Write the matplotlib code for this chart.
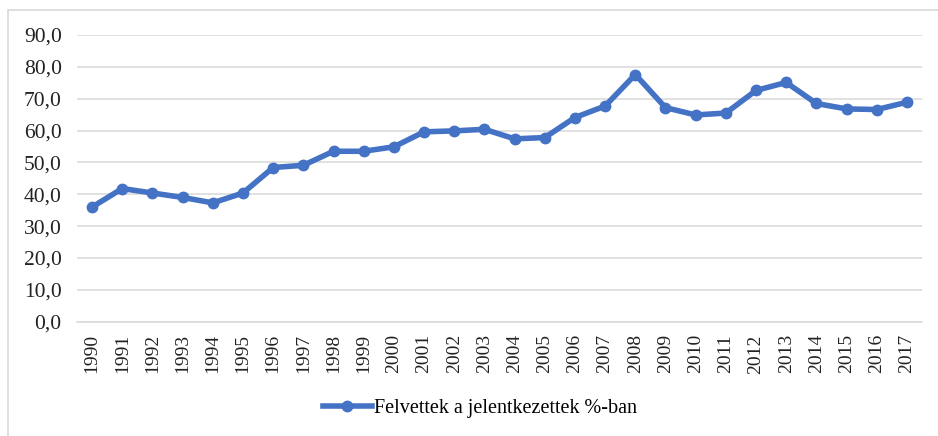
import matplotlib
matplotlib.use("Agg")
import matplotlib.pyplot as plt
from matplotlib.patches import Rectangle
from matplotlib.lines import Line2D

years = [str(y) for y in range(1990, 2018)]
values = [36.0, 41.8, 40.4, 39.0, 37.3, 40.4, 48.4, 49.1, 53.5, 53.5,
          54.9, 59.6, 59.9, 60.4, 57.4, 57.8, 64.1, 67.7, 77.6, 67.2,
          64.9, 65.5, 72.6, 75.1, 68.5, 66.8, 66.6, 68.9]
series_label = "Felvettek a jelentkezettek %-ban"
yticks = [0, 10, 20, 30, 40, 50, 60, 70, 80, 90]

W, H = 938, 436
fig = plt.figure(figsize=(W / 100, H / 100), dpi=100)
fig.patch.set_facecolor("white")

# outer chart border (cropped at right and bottom)
fig.patches.append(Rectangle((8 / W, -0.05), 1.1, (H - 10) / H + 0.05,
                             transform=fig.transFigure, fill=False,
                             edgecolor="#d9d9d9", linewidth=1.2))

ax = fig.add_axes([77 / W, (H - 321.7) / H, (922 - 77) / W, (321.7 - 35) / H])
color = "#4472C4"
x = list(range(len(years)))
ax.plot(x, values, color=color, linewidth=4, marker="o", markersize=7.5,
        markerfacecolor=color, markeredgecolor=color, solid_joinstyle="round",
        label=series_label, zorder=3)

ax.set_xlim(-0.5, len(years) - 0.5)
ax.set_ylim(0, 90)
ax.set_yticks(yticks)
ax.set_yticklabels([f"{v:.1f}".replace(".", ",") for v in yticks],
                   fontfamily="Liberation Serif", fontsize=15.5)
ax.set_xticks(x)
ax.set_xticklabels(years, rotation=90, fontfamily="Liberation Serif", fontsize=14)
ax.tick_params(axis="both", length=0, colors="#222222")
ax.tick_params(axis="y", pad=11)
ax.tick_params(axis="x", pad=9)
ax.grid(axis="y", color="#d9d9d9", linewidth=1.1)
ax.set_axisbelow(True)
for s in ["top", "right", "left"]:
    ax.spines[s].set_visible(False)
ax.spines["bottom"].set_color("#d9d9d9")
ax.spines["bottom"].set_linewidth(1.1)

handle = Line2D([], [], color=color, linewidth=4, marker="o", markersize=7.5)
fig.legend([handle], [series_label], loc="center", bbox_to_anchor=(480 / W, (H - 408) / H),
           frameon=False, prop={"family": "Liberation Serif", "size": 14.5},
           handlelength=2.4, handletextpad=0.1)

fig.savefig("out.png", dpi=100, facecolor="white")
